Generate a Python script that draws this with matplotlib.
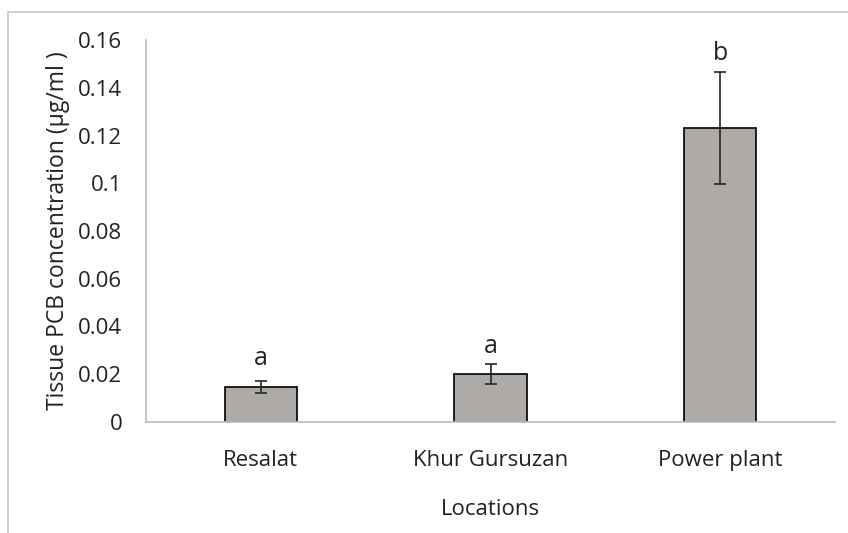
import matplotlib.pyplot as plt
from matplotlib.patches import Rectangle

# values
locations = ['Resalat', 'Khur Gursuzan', 'Power plant']
pcb_mean = [0.0147, 0.0202, 0.1230]
pcb_err = [0.0025, 0.0042, 0.0234]
letters = ['a', 'a', 'b']
letter_y = [0.0268, 0.0318, 0.1545]

plt.rcParams['font.family'] = ['Open Sans', 'DejaVu Sans']
txt_col = '#222222'

fig = plt.figure(figsize=(8.48, 5.33), dpi=100)

# light grey frame round the chart area, like the Excel export
fig.patches.append(Rectangle((8 / 848, -0.1), 1.2, 1 - 12 / 533 + 0.1,
                             transform=fig.transFigure, fill=False,
                             edgecolor='#c8c8c8', linewidth=1.2))

ax = fig.add_axes([146 / 848, 1 - 422 / 533, (835 - 146) / 848, (422 - 40) / 533])

x = range(len(locations))
ax.bar(x, pcb_mean, width=0.315, color='#aeaaa8', edgecolor='black', linewidth=1.2,
       yerr=pcb_err, capsize=4.5,
       error_kw=dict(ecolor='#262626', elinewidth=1.2, capthick=1.2))

for i, (lab, yy) in enumerate(zip(letters, letter_y)):
    ax.text(i, yy, lab, ha='center', va='center', fontsize=18, color=txt_col)

ax.set_xlim(-0.5, 2.5)
ax.set_ylim(0, 0.16)
ax.set_yticks([0, 0.02, 0.04, 0.06, 0.08, 0.1, 0.12, 0.14, 0.16])
ax.set_yticklabels(['0', '0.02', '0.04', '0.06', '0.08', '0.1', '0.12', '0.14', '0.16'])
ax.set_xticks(list(x))
ax.set_xticklabels(locations)
ax.tick_params(axis='both', length=0, labelsize=16, colors=txt_col)
ax.tick_params(axis='x', pad=20)
ax.tick_params(axis='y', pad=17)

for s in ['top', 'right']:
    ax.spines[s].set_visible(False)
for s in ['left', 'bottom']:
    ax.spines[s].set_color('#bfbfbf')
    ax.spines[s].set_linewidth(1.3)

ax.set_xlabel('Locations', fontsize=16, color=txt_col, labelpad=20)
ax.set_ylabel('Tissue PCB concentration (μg/ml )', fontsize=16.5, color=txt_col, labelpad=6)

fig.savefig('out.png', dpi=100)
